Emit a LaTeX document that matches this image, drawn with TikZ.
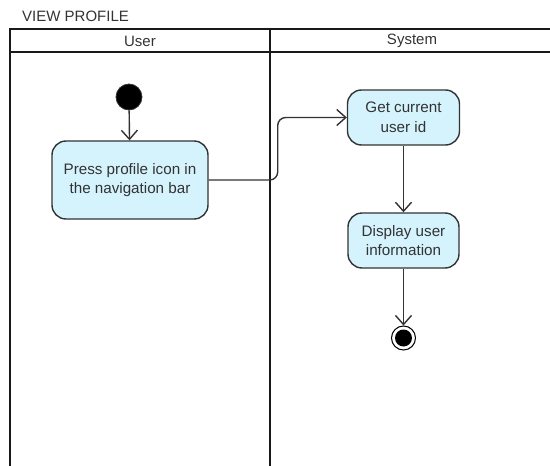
\documentclass[tikz,border=0pt]{standalone}
\usepackage{fontspec}
\setmainfont{Liberation Sans}
\usetikzlibrary{arrows.meta}
\definecolor{actfill}{HTML}{D4F3FD}
\definecolor{ink}{HTML}{333333}
\begin{document}
\begin{tikzpicture}[x=1pt,y=-1pt,
  lane/.style={draw=black!90, line width=2.4pt},
  lanelabel/.style={text=ink, font=\fontsize{15}{18}\selectfont, inner sep=0pt},
  action/.style={draw=ink, line width=1.4pt, fill=actfill, rounded corners=14pt,
    align=center, font=\fontsize{15.2}{19.5}\selectfont, text=ink, inner sep=0pt},
  flow/.style={draw=ink, line width=1.4pt,
    -{Straight Barb[length=9pt,width=16pt,line width=1.4pt]}},
  initial/.style={circle, fill=black, draw=ink, line width=0.8pt, minimum size=26pt, inner sep=0pt},
  final/.style={circle, draw=black, line width=1pt, fill=white, minimum size=24pt, inner sep=0pt},
]
\useasboundingbox (0,0) rectangle (550,466);
\clip (0,0) rectangle (550,466);

% title
\node[lanelabel, anchor=west] (title) at (22,16) {VIEW PROFILE};

% swimlanes
\draw[lane] (560,29) -- (10,29) -- (10,470);
\draw[lane] (10,52) -- (560,52);
\draw[lane] (270,29) -- (270,470);
\node[lanelabel] (userhead) at (140,41) {User};
\node[lanelabel] (syshead) at (412,41) {System};

% nodes
\node[initial] (start) at (129,97) {};
\node[action, minimum width=156pt, minimum height=78pt] (press) at (130,180)
  {Press profile icon in\\the navigation bar};
\node[action, minimum width=112pt, minimum height=55pt] (getid) at (403.5,117.5)
  {Get current\\user id};
\node[action, minimum width=111pt, minimum height=55pt] (display) at (403.5,240.5)
  {Display user\\information};
\node[final] (stop) at (403.5,338) {};
\fill[black] (stop.center) circle (8.5pt);

% flows
\draw[flow] (start) -- (press);
\draw[flow, rounded corners=8pt] (press.east) -- ++(69,0) |- (getid.west);
\draw[flow] (getid) -- (display);
\draw[flow] (display) -- (stop);
\end{tikzpicture}
\end{document}
